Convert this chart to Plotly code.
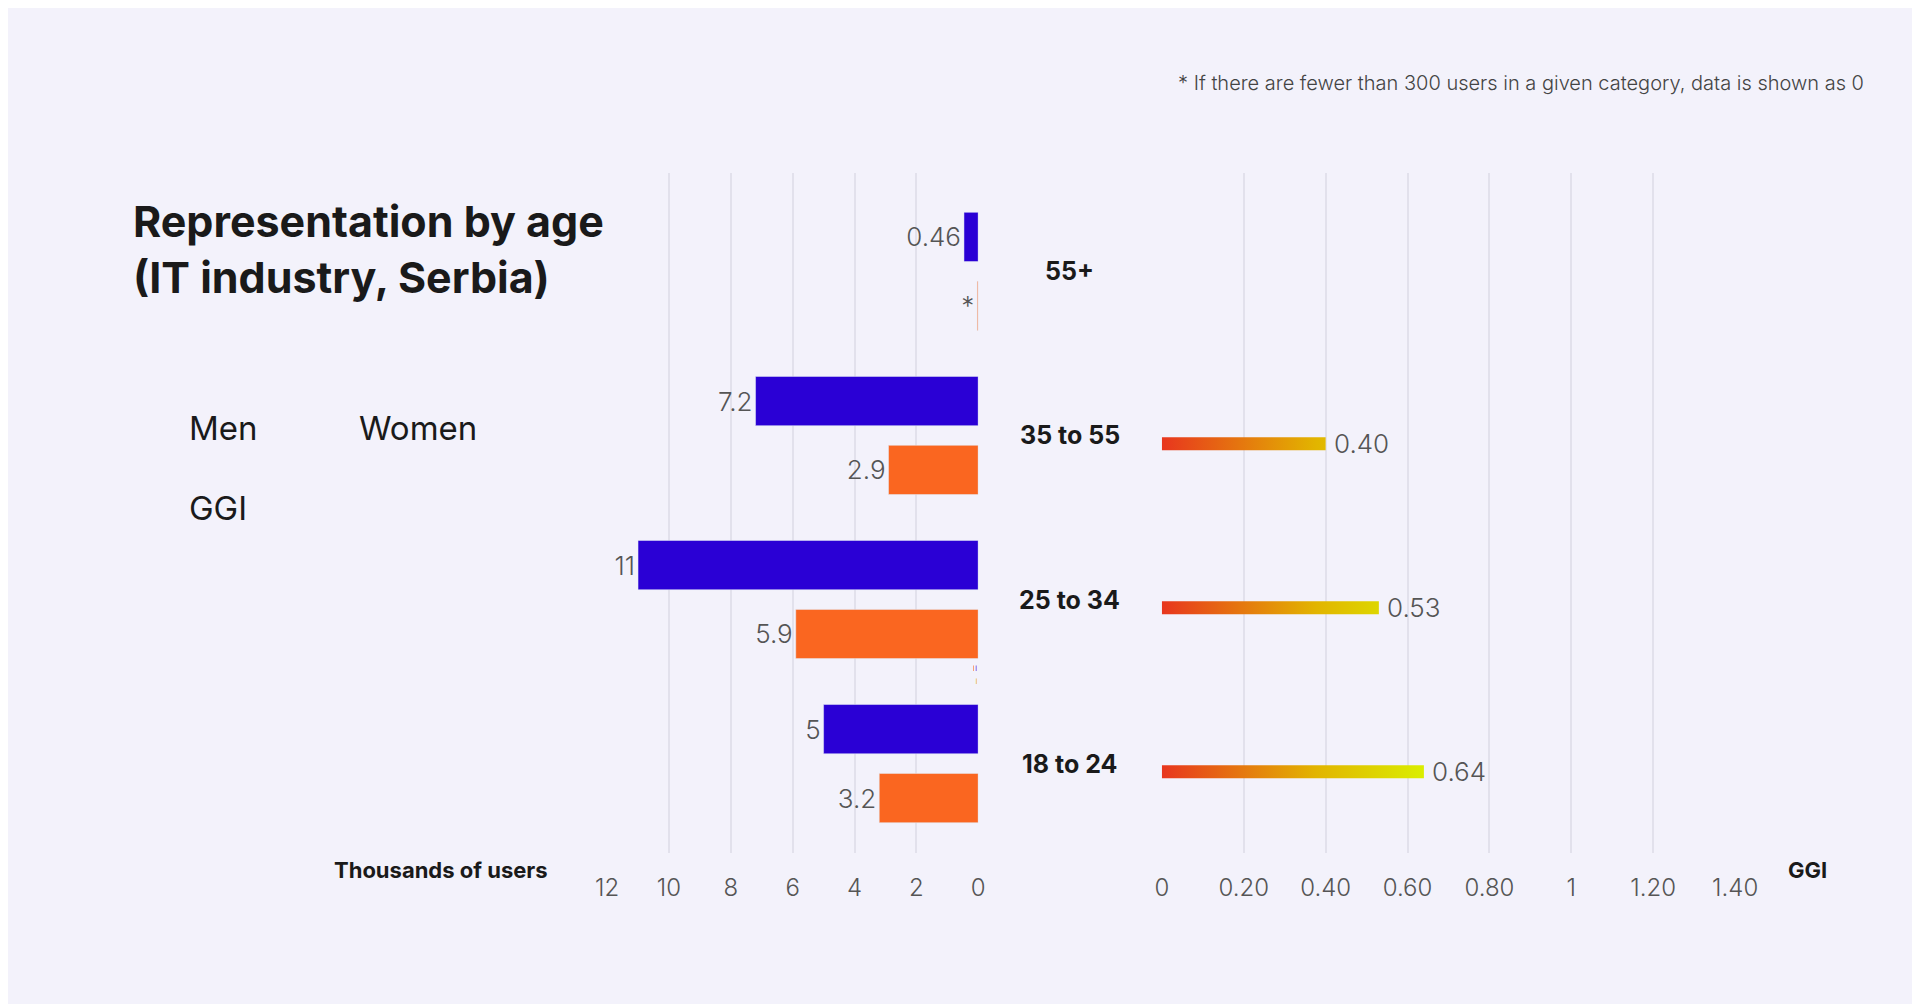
import plotly.graph_objects as go

ages = ["18 to 24", "25 to 34", "35 to 55", "55+"]
men = [5, 11, 7.2, 0.46]
women = [3.2, 5.9, 2.9, 0.03]
men_text = ["5", "11", "7.2", "0.46"]
women_text = ["3.2", "5.9", "2.9", "*"]
ggi = [0.64, 0.53, 0.40, None]
ggi_text = ["0.64", "0.53", "0.40", ""]
left_ticks = [0, 2, 4, 6, 8, 10, 12]
right_ticks = [0, 0.2, 0.4, 0.6, 0.8, 1.0, 1.2, 1.4]
right_ticktext = ["0", "0.20", "0.40", "0.60", "0.80", "1", "1.20", "1.40"]

BG = "#f3f2fb"
MEN = "#2a00d5"
WOMEN = "#fa6620"
GRAD = [[0, "#e8361e"], [0.55, "#e2b400"], [1, "#d9f700"]]
FONT = "Inter"
W, H = 1920, 1004

def px(x):
    return x / W

def py(y):
    return 1 - y / H

pos = list(range(len(ages)))
fig = go.Figure()

fig.add_trace(go.Bar(x=men, y=[p + 0.21 for p in pos], orientation="h", width=0.3,
                     marker_color=MEN, text=men_text, textposition="outside",
                     cliponaxis=False, textfont=dict(size=26, color="#555", weight=300),
                     xaxis="x", yaxis="y", showlegend=False))
fig.add_trace(go.Bar(x=women, y=[p - 0.21 for p in pos], orientation="h", width=0.3,
                     marker_color=WOMEN, text=women_text, textposition="outside",
                     cliponaxis=False, textfont=dict(size=26, color="#555", weight=300),
                     xaxis="x", yaxis="y", showlegend=False))

h = 0.04
for p, v, t in zip(pos, ggi, ggi_text):
    if v is None:
        continue
    c = p - 0.05
    fig.add_trace(go.Scatter(x=[0, v, v, 0, 0], y=[c - h, c - h, c + h, c + h, c - h],
                             mode="lines", fill="toself", line=dict(width=0),
                             fillgradient=dict(type="horizontal", colorscale=GRAD, start=0, stop=0.67),
                             xaxis="x2", yaxis="y", showlegend=False, hoverinfo="skip"))
    fig.add_annotation(x=v, y=c, xref="x2", yref="y", text=t, showarrow=False,
                       xanchor="left", xshift=6, font=dict(size=26, color="#555", weight=300))

for p, a in zip(pos, ages):
    fig.add_annotation(x=px(1069), y=p, xref="paper", yref="y", text="<b>%s</b>" % a,
                       showarrow=False, font=dict(size=25, color="#1a1a1a"))

anns = [
    dict(x=px(113), y=py(185), text="<b>Representation by age<br>(IT industry, Serbia)</b>",
         xanchor="left", yanchor="top", align="left", font=dict(size=43, color="#1a1a1a")),
    dict(x=px(1880), y=py(61), text="* If there are fewer than 300 users in a given category, data is shown as 0",
         xanchor="right", font=dict(size=20, color="#444", weight=300)),
    dict(x=px(540), y=py(877), text="<b>Thousands of users</b>", xanchor="right",
         font=dict(size=22, color="#1a1a1a")),
    dict(x=px(1843), y=py(877), text="<b>GGI</b>", font=dict(size=22, color="#1a1a1a")),
    dict(x=px(170), y=py(420), text="Men", xanchor="left", font=dict(size=33, color="#1a1a1a")),
    dict(x=px(343), y=py(420), text="Women", xanchor="left", font=dict(size=33, color="#1a1a1a")),
    dict(x=px(170), y=py(500), text="GGI", xanchor="left", font=dict(size=33, color="#1a1a1a")),
]
for a in anns:
    fig.add_annotation(xref="paper", yref="paper", showarrow=False, font_family=FONT, **a)

shapes = [
    dict(type="rect", x0=px(113), x1=px(148), y0=py(403), y1=py(437), fillcolor=MEN, line_width=0),
    dict(type="rect", x0=px(283), x1=px(320), y0=py(403), y1=py(437), fillcolor=WOMEN, line_width=0),
]
# GGI legend swatch as thin strips
cols = ["#e8361e", "#e94f18", "#ea6a12", "#e8850c", "#e4a006", "#dfbb02", "#dcd200", "#d9e600", "#d9f700"]
sw = 35 / len(cols)
for i, c in enumerate(cols):
    shapes.append(dict(type="rect", x0=px(113 + i * sw), x1=px(113 + (i + 1) * sw + 0.5),
                       y0=py(483), y1=py(517), fillcolor=c, line_width=0))

fig.update_layout(
    width=W, height=H, paper_bgcolor=BG, plot_bgcolor=BG,
    margin=dict(l=0, r=0, t=0, b=0), barmode="overlay", shapes=shapes,
    font=dict(family=FONT, color="#444"),
    xaxis=dict(domain=[px(598), px(976)], range=[12, 0], tickvals=left_ticks,
               showgrid=True, gridcolor="#e2e1ec", gridwidth=1.5, zeroline=False,
               ticks="", ticklabelstandoff=18, tickfont=dict(size=24, color="#555", weight=300)),
    xaxis2=dict(domain=[px(1163), px(1747)], range=[0, 1.4], tickvals=right_ticks,
                ticktext=right_ticktext, anchor="y", showgrid=True, gridcolor="#e2e1ec",
                gridwidth=1.5, zeroline=False, ticks="", ticklabelstandoff=18,
                tickfont=dict(size=24, color="#555", weight=300)),
    yaxis=dict(domain=[py(845), py(165)], range=[-0.545, 3.6], visible=False),
)

fig.write_html("out.html")
